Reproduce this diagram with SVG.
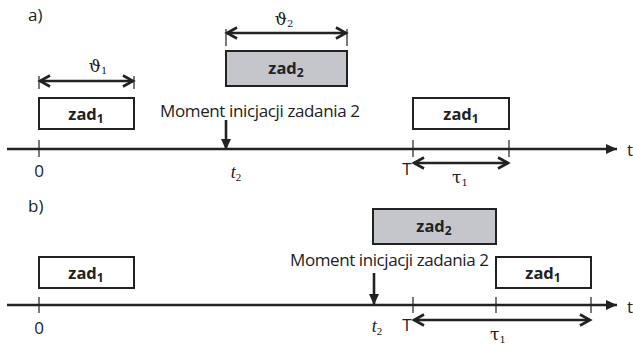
<svg xmlns="http://www.w3.org/2000/svg" width="633" height="344" viewBox="0 0 633 344">
<style>
.box{fill:#fff;stroke:#222;stroke-width:2}
.box2{fill:#c4c6cc;stroke:#222;stroke-width:2}
.axis{stroke:#222;stroke-width:2.6;fill:none}
.tick{stroke:#222;stroke-width:1.2}
.dim{stroke:#222;stroke-width:2.4;fill:none}
.lbl{font-family:"Open Sans","Noto Sans",sans-serif;font-size:17px;fill:#222}
.zad{font-family:"Open Sans","Noto Sans",sans-serif;font-size:16.5px;font-weight:bold;fill:#222;text-anchor:middle}
.gr{font-family:"DejaVu Serif","Liberation Serif",serif;font-size:17px;fill:#222;text-anchor:middle}
.it{font-family:"Liberation Serif",serif;font-style:italic;font-size:18px;fill:#222;text-anchor:middle}
</style>
<defs>
<marker id="chev" markerUnits="userSpaceOnUse" markerWidth="16" markerHeight="16" viewBox="0 0 16 16" refX="13" refY="8" orient="auto-start-reverse">
<path d="M3,2.5 L13,8 L3,13.5" fill="none" stroke="#222" stroke-width="2.6"/>
</marker>
<marker id="tri" markerUnits="userSpaceOnUse" markerWidth="12" markerHeight="12" viewBox="0 0 12 12" refX="11" refY="6" orient="auto">
<path d="M0,1 L11,6 L0,11 Z" fill="#222"/>
</marker>
</defs>

<text class="lbl" x="28" y="21">a)</text>
<text class="lbl" x="28" y="212">b)</text>

<g id="connectors">
<line class="axis" x1="7" y1="149" x2="617" y2="149" marker-end="url(#tri)"/>
<line class="tick" x1="39" y1="140" x2="39" y2="157"/>
<line class="tick" x1="413" y1="140" x2="413" y2="157"/>
<line class="tick" x1="509" y1="140" x2="509" y2="157"/>
<line class="axis" x1="7" y1="305" x2="617" y2="305" marker-end="url(#tri)"/>
<line class="tick" x1="39" y1="297" x2="39" y2="313"/>
<line class="tick" x1="413" y1="297" x2="413" y2="313"/>
<line class="tick" x1="496" y1="297" x2="496" y2="313"/>
<line class="tick" x1="591" y1="297" x2="591" y2="313"/>
<line class="tick" x1="39" y1="76" x2="39" y2="89"/>
<line class="tick" x1="134" y1="76" x2="134" y2="89"/>
<line class="dim" x1="40" y1="81" x2="133" y2="81" marker-start="url(#chev)" marker-end="url(#chev)"/>
<line class="tick" x1="226" y1="29" x2="226" y2="46"/>
<line class="tick" x1="347" y1="29" x2="347" y2="46"/>
<line class="dim" x1="227" y1="33" x2="346" y2="33" marker-start="url(#chev)" marker-end="url(#chev)"/>
<line class="dim" x1="414" y1="163" x2="508" y2="163" marker-start="url(#chev)" marker-end="url(#chev)"/>
<line class="dim" x1="414" y1="320" x2="590" y2="320" marker-start="url(#chev)" marker-end="url(#chev)"/>
<line class="axis" x1="226" y1="120" x2="226" y2="150" marker-end="url(#tri)"/>
<line class="axis" x1="374" y1="273" x2="374" y2="305" marker-end="url(#tri)"/>
</g>

<g id="zad1-a1">
<rect class="box" x="39" y="98" width="95" height="31"/>
<text class="zad" x="86" y="120">zad<tspan font-size="12" dy="3">1</tspan></text>
</g>
<g id="zad2-a">
<rect class="box2" x="226" y="51" width="121" height="35"/>
<text class="zad" x="286" y="74">zad<tspan font-size="12" dy="3">2</tspan></text>
</g>
<g id="zad1-a2">
<rect class="box" x="413" y="98" width="96" height="31"/>
<text class="zad" x="461" y="120">zad<tspan font-size="12" dy="3">1</tspan></text>
</g>
<g id="zad1-b1">
<rect class="box" x="39" y="257" width="95" height="31"/>
<text class="zad" x="86" y="279">zad<tspan font-size="12" dy="3">1</tspan></text>
</g>
<g id="zad2-b">
<rect class="box2" x="373" y="209" width="123" height="35"/>
<text class="zad" x="434" y="232">zad<tspan font-size="12" dy="3">2</tspan></text>
</g>
<g id="zad1-b2">
<rect class="box" x="496" y="257" width="95" height="31"/>
<text class="zad" x="543" y="279">zad<tspan font-size="12" dy="3">1</tspan></text>
</g>

<g id="labels">
<text class="gr" x="98" y="72">ϑ<tspan font-size="10" dy="2">1</tspan></text>
<text class="gr" x="284" y="25">ϑ<tspan font-size="10" dy="2">2</tspan></text>
<text class="lbl" x="160" y="117" textLength="200">Moment inicjacji zadania 2</text>
<text class="lbl" x="290" y="266" textLength="199">Moment inicjacji zadania 2</text>
<text class="lbl" x="39" y="177" text-anchor="middle">0</text>
<text class="lbl" x="39" y="334" text-anchor="middle">0</text>
<text class="it" x="236" y="178">t<tspan font-size="11" font-style="normal" dy="3">2</tspan></text>
<text class="it" x="377" y="332">t<tspan font-size="11" font-style="normal" dy="3">2</tspan></text>
<text class="lbl" x="407" y="175" text-anchor="middle">T</text>
<text class="lbl" x="407" y="331" text-anchor="middle">T</text>
<text class="gr" x="460" y="183">τ<tspan font-size="10" dy="3">1</tspan></text>
<text class="gr" x="498" y="340">τ<tspan font-size="10" dy="3">1</tspan></text>
<text class="lbl" x="630" y="156" text-anchor="middle">t</text>
<text class="lbl" x="630" y="313" text-anchor="middle">t</text>
</g>
</svg>
